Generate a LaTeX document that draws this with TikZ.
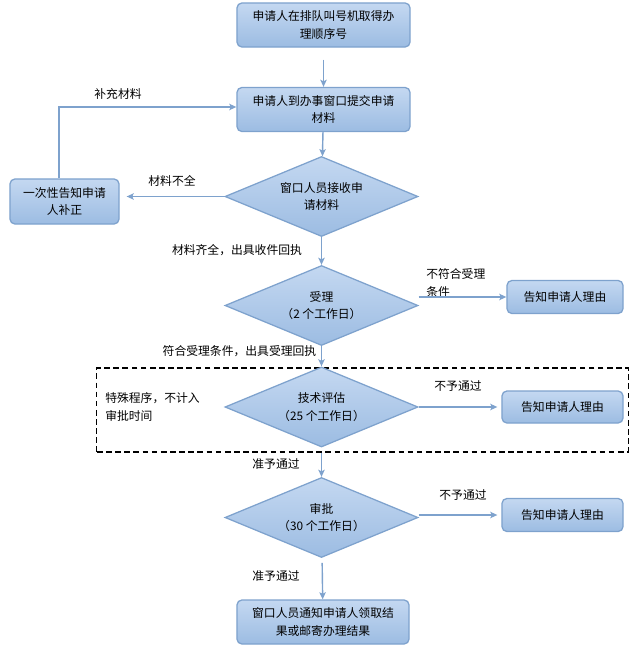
\documentclass[tikz,border=0pt]{standalone}
\usepackage{fontspec}
\setmainfont{Noto Sans CJK SC}
\usetikzlibrary{shapes.geometric,arrows.meta}
\definecolor{fillTop}{HTML}{C4D8F1}
\definecolor{fillBot}{HTML}{9CBCE2}
\definecolor{edgeBlue}{HTML}{7EA2CD}
\tikzset{
  proc/.style={rectangle,rounded corners=3.5pt,draw=edgeBlue,line width=0.9pt,top color=fillTop,bottom color=fillBot,align=center,inner sep=0pt},
  decide/.style={diamond,aspect=2.4,draw=edgeBlue,line width=0.9pt,top color=fillTop,bottom color=fillBot,align=center,inner sep=0pt,minimum width=4.825cm,minimum height=2cm},
  lbl/.style={inner sep=0pt,align=left},
  flow/.style={draw=edgeBlue,line width=1pt,-{Stealth[length=5pt,width=4.5pt,inset=1pt]}},
  specialbox/.style={draw,line width=0.8pt,dash pattern=on 4pt off 2.5pt,inner sep=0pt,minimum width=13.275cm,minimum height=2.1cm},
}

\begin{document}
\begin{tikzpicture}[x=0.025cm,y=-0.025cm,font=\fontsize{8.4pt}{12.5pt}\selectfont]
      \useasboundingbox (0,0) rectangle (640,651);
      \node[specialbox] (special) at (362.5,410) {};

      \node[proc,minimum width=4.325cm,minimum height=1.1cm] (apply) at (323.5,25) {申请人在排队叫号机取得办\\理顺序号};
      \node[proc,minimum width=4.325cm,minimum height=1.1cm] (submit) at (323.5,109.5) {申请人到办事窗口提交申请\\材料};
      \node[decide] (check) at (321.5,196.5) {窗口人员接收申\\请材料};
      \node[proc,minimum width=2.725cm,minimum height=1.125cm] (fix) at (64.5,201.5) {一次性告知申请\\人补正};
      \node[decide] (accept) at (321.5,305.5) {受理\\（2 个工作日）};
      \node[proc,minimum width=2.9cm,minimum height=0.825cm] (reasonA) at (565,297) {告知申请人理由};
      \node[decide] (assess) at (321.5,407) {技术评估\\（25 个工作日）};
      \node[proc,minimum width=3.025cm,minimum height=0.8cm] (reasonB) at (562.5,407) {告知申请人理由};
      \node[decide] (approve) at (321.5,517.5) {审批\\（30 个工作日）};
      \node[proc,minimum width=3.025cm,minimum height=0.825cm] (reasonC) at (562.5,515) {告知申请人理由};
      \node[proc,minimum width=4.3cm,minimum height=1.1cm] (notify) at (323,622) {窗口人员通知申请人领取结\\果或邮寄办理结果};

      \node[lbl] (moreDocs) at (118,94) {补充材料};
      \node[lbl] (lackDocs) at (172,181) {材料不全};
      \node[lbl] (fullDocs) at (237,250) {材料齐全，出具收件回执};
      \node[lbl,anchor=west] (notMeet) at (426,283) {不符合受理\\条件};
      \node[lbl] (meet) at (239.5,351) {符合受理条件，出具受理回执};
      \node[lbl,anchor=west] (specialNote) at (105,407) {特殊程序，不计入\\审批时间};
      \node[lbl] (rejectB) at (458,386) {不予通过};
      \node[lbl] (passB) at (276,464) {准予通过};
      \node[lbl] (rejectC) at (463,495) {不予通过};
      \node[lbl] (passC) at (276,576) {准予通过};

      \draw[flow,shorten <=0.3cm] (apply) -- (submit);
      \draw[flow] (submit) -- (check);
      \draw[flow,shorten >=0.175cm] (check.west) -- (check.west -| fix.east);
      \draw[flow] ([xshift=-0.14cm]fix.north) |- ([yshift=0.0625cm]submit.west);
      \draw[flow] (check) -- (accept);
      \draw[flow] (accept.east |- reasonA.west) -- (reasonA.west);
      \draw[flow] (accept) -- (assess);
      \draw[flow,shorten >=0.1cm] (assess.east) -- (reasonB.west);
      \draw[flow] (special.south -| assess) -- (approve);
      \draw[flow,shorten >=0.1cm] (approve.east |- reasonC.west) -- (reasonC.west);
      \draw[flow,shorten <=0.125cm] (approve) -- (notify);
    \end{tikzpicture}
\end{document}
